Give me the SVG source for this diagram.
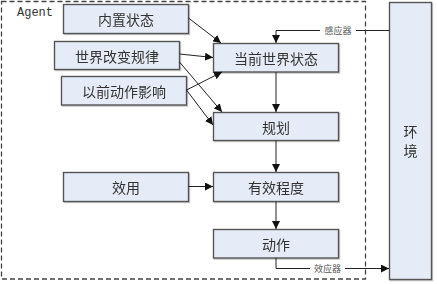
<svg xmlns="http://www.w3.org/2000/svg" width="437" height="284" viewBox="0 0 437 284">
<defs>
<marker id="arr" viewBox="0 0 10 10" refX="10" refY="5" markerWidth="8" markerHeight="8" markerUnits="userSpaceOnUse" orient="auto">
<path d="M0,0 L10,5 L0,10 z" fill="#111"/>
</marker>
<filter id="sh" x="-5%" y="-5%" width="115%" height="130%">
<feDropShadow dx="1" dy="1" stdDeviation="0.6" flood-color="#000" flood-opacity="0.25"/>
</filter>
</defs>
<style>
.box{fill:#E6ECF7;stroke:#555;stroke-width:1.4}
.t{font-family:"Noto Sans CJK SC","Noto Sans CJK JP",sans-serif;font-size:14px;fill:#333;text-anchor:middle;dominant-baseline:central}
.s{font-family:"Noto Sans CJK SC",sans-serif;font-size:9px;fill:#555;text-anchor:middle;dominant-baseline:central}
.c{fill:none;stroke:#222;stroke-width:1}
</style>
<rect x="0" y="0" width="437" height="284" fill="#fff"/>
<rect id="agent-frame" x="1.5" y="1.5" width="364" height="277.5" fill="none" stroke="#444" stroke-width="1.3" stroke-dasharray="5,3"/>
<text x="17" y="16" font-family="Liberation Mono, monospace" font-size="12" fill="#333">Agent</text>

<g id="env" filter="url(#sh)"><rect class="box" x="389.5" y="2.5" width="42" height="277"/><text class="t" x="410.5" y="131">环</text><text class="t" x="410.5" y="150">境</text></g>

<g id="n1" filter="url(#sh)"><rect class="box" x="63.5" y="4.5" width="125" height="29"/><text class="t" x="126" y="19">内置状态</text></g>
<g id="n2" filter="url(#sh)"><rect class="box" x="54.5" y="41.5" width="125" height="28"/><text class="t" x="117" y="55.5">世界改变规律</text></g>
<g id="n3" filter="url(#sh)"><rect class="box" x="61.5" y="76.5" width="125" height="28.5"/><text class="t" x="124" y="90.5">以前动作影响</text></g>
<g id="n4" filter="url(#sh)"><rect class="box" x="213.5" y="43.5" width="125" height="28.5"/><text class="t" x="276" y="57.5">当前世界状态</text></g>
<g id="n5" filter="url(#sh)"><rect class="box" x="213.5" y="112.5" width="125" height="28"/><text class="t" x="276" y="126.5">规划</text></g>
<g id="n6" filter="url(#sh)"><rect class="box" x="63.5" y="172.5" width="125" height="29"/><text class="t" x="126" y="187">效用</text></g>
<g id="n7" filter="url(#sh)"><rect class="box" x="213.5" y="172.5" width="125" height="29"/><text class="t" x="276" y="187">有效程度</text></g>
<g id="n8" filter="url(#sh)"><rect class="box" x="213.5" y="229.5" width="125" height="28.5"/><text class="t" x="276" y="243.5">动作</text></g>

<g id="connectors">
<line class="c" x1="188.5" y1="18" x2="221" y2="43" marker-end="url(#arr)"/>
<line class="c" x1="179.5" y1="54" x2="213" y2="57.5" marker-end="url(#arr)"/>
<line class="c" x1="179.5" y1="62" x2="222" y2="112" marker-end="url(#arr)"/>
<line class="c" x1="186.5" y1="90" x2="222" y2="72" marker-end="url(#arr)"/>
<line class="c" x1="186.5" y1="90" x2="213" y2="125" marker-end="url(#arr)"/>
<line class="c" x1="276" y1="72" x2="276" y2="112" marker-end="url(#arr)"/>
<line class="c" x1="276" y1="140.5" x2="276" y2="172" marker-end="url(#arr)"/>
<line class="c" x1="188.5" y1="186.5" x2="213" y2="186.5" marker-end="url(#arr)"/>
<line class="c" x1="276" y1="201.5" x2="276" y2="229" marker-end="url(#arr)"/>
<path class="c" d="M389.5,30.5 H276 V43" marker-end="url(#arr)"/>
<path class="c" d="M276,258 V268.5 H389" marker-end="url(#arr)"/>
<rect x="320" y="25" width="36" height="11" fill="#fff"/>
<text class="s" x="338" y="30.5">感应器</text>
<rect x="310" y="263" width="35" height="11" fill="#fff"/>
<text class="s" x="327.5" y="268.5">效应器</text>
</g>
</svg>
